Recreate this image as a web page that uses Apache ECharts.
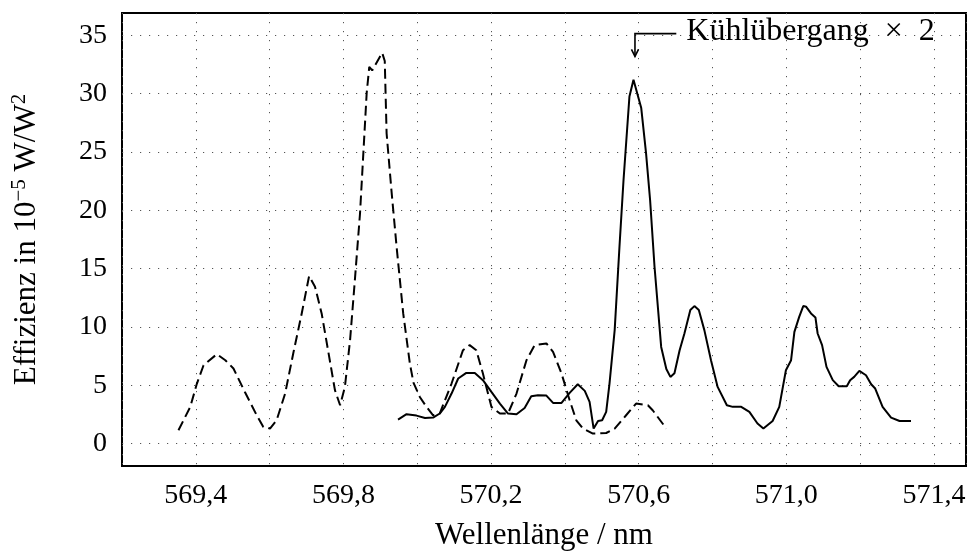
<!DOCTYPE html>
<html>
<head>
<meta charset="utf-8">
<script src="https://cdn.jsdelivr.net/npm/echarts@6/dist/echarts.min.js"></script>
<style>
html,body{margin:0;padding:0;background:#fff;}
#c{width:973px;height:555px;}
</style>
</head>
<body>
<div id="c"></div>
<script>
// Dashed series (wavelength nm, efficiency)
const dashX = [569.353,569.385,569.403,569.421,569.457,569.480,569.502,569.533,569.565,569.583,569.601,569.619,569.642,569.664,569.687,569.707,569.723,569.741,569.763,569.777,569.791,569.804,569.818,569.831,569.845,569.863,569.870,569.878,569.905,569.912,569.917,569.930,569.944,569.962,569.980,569.990,570.007,570.025,570.043,570.061,570.093,570.124,570.142,570.160,570.178,570.201,570.224,570.246,570.269,570.296,570.318,570.350,570.368,570.391,570.413,570.431,570.449,570.476,570.512,570.535,570.566,570.593,570.625,570.638,570.675];
const dashY = [1.14,3.15,5.15,6.72,7.67,7.15,6.44,4.43,2.43,1.43,1.29,2.0,4.29,7.73,11.16,14.37,13.45,11.16,7.15,4.58,3.29,4.86,8.87,14.02,19.75,30.05,32.3,32.0,33.5,32.8,26.6,21.75,16.9,11.16,6.87,5.2,4.0,3.15,2.43,2.58,5.15,8.01,8.44,8.01,6.01,3.15,2.58,2.58,4.29,7.15,8.44,8.59,7.87,6.01,3.72,2.0,1.29,0.86,0.91,1.29,2.43,3.43,3.29,2.86,1.29];
// Solid series
const solidX = [569.948,569.971,569.998,570.021,570.043,570.061,570.075,570.093,570.111,570.133,570.156,570.178,570.201,570.224,570.246,570.269,570.291,570.309,570.327,570.350,570.368,570.391,570.413,570.435,570.454,570.467,570.478,570.490,570.501,570.512,570.521,570.535,570.548,570.559,570.575,570.586,570.607,570.620,570.631,570.643,570.661,570.675,570.686,570.697,570.711,570.724,570.740,570.751,570.763,570.778,570.796,570.814,570.839,570.855,570.878,570.900,570.922,570.938,570.963,570.981,570.999,571.013,571.022,571.035,571.046,571.054,571.067,571.079,571.085,571.097,571.109,571.126,571.142,571.164,571.173,571.184,571.198,571.216,571.230,571.241,571.261,571.284,571.307,571.338];
const solidY = [2.06,2.52,2.40,2.20,2.23,2.58,3.15,4.29,5.58,6.06,6.06,5.44,4.43,3.43,2.58,2.52,3.06,4.06,4.15,4.12,3.49,3.49,4.35,5.09,4.52,3.57,1.29,1.94,2.0,2.72,5.15,9.73,16.88,22.6,29.76,31.2,28.77,24.9,20.89,15.16,8.29,6.4,5.72,6.04,8.01,9.44,11.45,11.79,11.45,9.73,7.15,4.86,3.29,3.15,3.15,2.72,1.72,1.29,1.94,3.15,6.29,7.15,9.58,10.87,11.79,11.73,11.16,10.82,9.44,8.44,6.58,5.44,4.92,4.92,5.44,5.72,6.23,5.86,5.09,4.72,3.15,2.23,1.94,1.94];
// Axis ticks
const xLabelTicks = [569.4,569.8,570.2,570.6,571.0,571.4];
const yTicks = [0,5,10,15,20,25,30,35];
// Annotation (data coords): corner, arrow tip, text anchor
const annoText = 'Kühlübergang\u2002×\u20022';
const annoArrowX = 570.59, annoTopY = 35.15, annoTipY = 33.2, annoLineEndX = 570.702;
const annoTextX = 570.729;

const FONT = '"Liberation Serif","Times New Roman",serif';
const chart = echarts.init(document.getElementById('c'), null, {renderer:'canvas'});
const gridDot = {color:'#555', width:1, type:[1.2,7.8]};

function fmtX(v){
  for (const t of xLabelTicks) if (Math.abs(v - t) < 1e-6) return t.toFixed(1).replace('.', ',');
  return '';
}

chart.setOption({
  animation:false,
  backgroundColor:'#fff',
  grid:{left:122, right:7, top:13, bottom:89, show:true, borderColor:'#000', borderWidth:2, backgroundColor:'transparent', outerBoundsMode:'none', containLabel:false},
  xAxis:{
    type:'value', min:569.2, max:571.487, interval:0.2,
    axisLine:{show:false}, axisTick:{show:false},
    splitLine:{show:true, lineStyle:gridDot},
    axisLabel:{formatter:fmtX, fontFamily:FONT, fontSize:28, color:'#000', margin:16, showMinLabel:true, showMaxLabel:true},
    name:'Wellenlänge / nm', nameLocation:'middle', nameGap:54,
    nameTextStyle:{fontFamily:FONT, fontSize:31, color:'#000'}
  },
  yAxis:{
    type:'value', min:-1.92, max:36.92,
    axisLine:{show:false}, axisTick:{show:false, customValues:yTicks},
    splitLine:{show:true, lineStyle:gridDot},
    axisLabel:{customValues:yTicks, formatter:(v)=>String(v), fontFamily:FONT, fontSize:28, color:'#000', margin:15},
    name:'Effizienz in 10{sup|−5} W/W{sup|2}', nameLocation:'middle', nameRotate:90, nameGap:77,
    nameTextStyle:{fontFamily:FONT, fontSize:31, color:'#000', lineHeight:36,
      rich:{sup:{fontFamily:FONT, fontSize:21, verticalAlign:'top', lineHeight:36, color:'#000'}}}
  },
  series:[
    {type:'line', data:dashX.map((x,i)=>[x,dashY[i]]), showSymbol:false, symbol:'none',
     lineStyle:{color:'#000', width:2, type:[10,5]}, z:3},
    {type:'line', data:solidX.map((x,i)=>[x,solidY[i]]), showSymbol:false, symbol:'none',
     lineStyle:{color:'#000', width:2, type:'solid'}, z:4}
  ]
});

const pCorner = chart.convertToPixel({gridIndex:0}, [annoArrowX, annoTopY]);
const pTip = chart.convertToPixel({gridIndex:0}, [annoArrowX, annoTipY]);
const pEnd = chart.convertToPixel({gridIndex:0}, [annoLineEndX, annoTopY]);
const pText = chart.convertToPixel({gridIndex:0}, [annoTextX, annoTopY]);
chart.setOption({
  graphic:[
    {type:'polyline', shape:{points:[pEnd, pCorner, pTip]}, style:{stroke:'#000', lineWidth:1.6, fill:null}, z:10},
    {type:'polyline', shape:{points:[[pTip[0]-3.5, pTip[1]-7],[pTip[0], pTip[1]],[pTip[0]+3.5, pTip[1]-7]]}, style:{stroke:'#000', lineWidth:1.6, fill:null}, z:10},
    {type:'text', x:pText[0], y:pText[1]-2, style:{text:annoText, font:'32px '+FONT, fill:'#000', textAlign:'left', textVerticalAlign:'middle'}, z:10}
  ]
});
</script>
</body>
</html>
